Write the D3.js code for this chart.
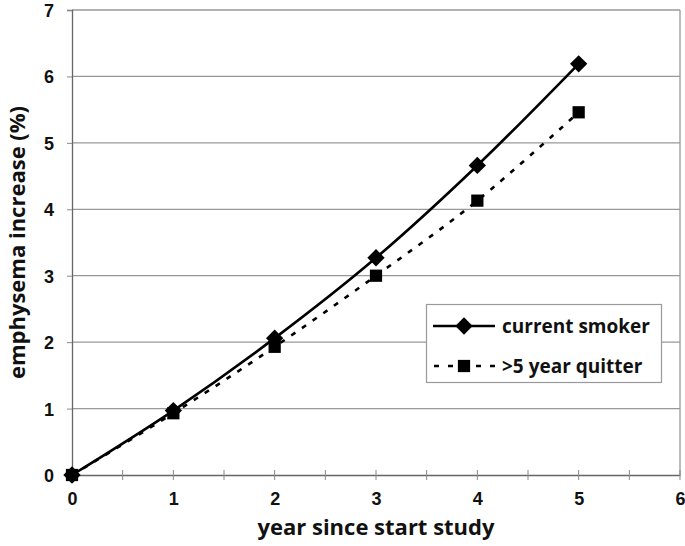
<!DOCTYPE html>
<html>
<head>
<meta charset="utf-8">
<script src="https://cdn.jsdelivr.net/npm/d3@7"></script>
<style>
  body { margin: 0; background: #fff; }
  svg { display: block; font-family: "Open Sans", Lato, sans-serif; }
  .tick text { font-size: 18px; font-weight: bold; fill: #111; }
  .title { font-size: 22px; font-weight: bold; fill: #111; }
  .legend text { font-size: 19px; font-weight: bold; fill: #111; }
</style>
</head>
<body>
<svg id="chart" width="685" height="546"></svg>
<script>
  // data
  let years = [0, 1, 2, 3, 4, 5];
  let smoker = [0, 0.97, 2.06, 3.27, 4.66, 6.19];
  let quitter = [0, 0.93, 1.93, 3.0, 4.13, 5.46];
  let xTicks = [0, 1, 2, 3, 4, 5, 6];
  let yTicks = [0, 1, 2, 3, 4, 5, 6, 7];
  let seriesNames = ['current smoker', '>5 year quitter'];

  let svg = d3.select('#chart');
  let m = { left: 72, right: 5, top: 10, bottom: 71 };
  let W = 685, H = 546;

  let x = d3.scaleLinear().domain([0, 6]).range([m.left, W - m.right]);
  let y = d3.scaleLinear().domain([0, 7]).range([H - m.bottom, m.top]);

  // gridlines
  svg.append('g')
    .selectAll('line')
    .data(yTicks.slice(1))
    .enter()
    .append('line')
      .attr('x1', x(0)).attr('x2', x(6))
      .attr('y1', d => y(d)).attr('y2', d => y(d))
      .attr('stroke', '#999').attr('stroke-width', 1.3);

  // right border of plot
  svg.append('line')
    .attr('x1', x(6)).attr('x2', x(6))
    .attr('y1', y(0)).attr('y2', y(7))
    .attr('stroke', '#999').attr('stroke-width', 1.3);

  // x axis with half-unit ticks crossing the line
  let xAxis = svg.append('g')
    .attr('transform', `translate(0,${y(0)})`)
    .call(d3.axisBottom(x).tickValues(xTicks).tickSize(0).tickPadding(17).tickFormat(d3.format('d')));
  xAxis.select('.domain').attr('stroke', '#666').attr('stroke-width', 1.3);
  xAxis.selectAll('.minor')
    .data(d3.range(0.5, 6.01, 0.5))
    .enter()
    .append('line')
      .attr('class', 'minor')
      .attr('x1', d => x(d)).attr('x2', d => x(d))
      .attr('y1', -5).attr('y2', 5)
      .attr('stroke', '#888');

  // y axis
  let yAxis = svg.append('g')
    .attr('transform', `translate(${m.left},0)`)
    .call(d3.axisLeft(y).tickValues(yTicks).tickSize(5).tickPadding(13).tickFormat(d3.format('d')));
  yAxis.select('.domain').attr('stroke', '#666').attr('stroke-width', 1.3);
  yAxis.selectAll('.tick line').attr('stroke', '#888');
  yAxis.selectAll('.tick text').attr('dy', '0.36em');

  // axis titles
  svg.append('text')
    .attr('class', 'title')
    .attr('x', (x(0) + x(6)) / 2)
    .attr('y', 535)
    .attr('text-anchor', 'middle')
    .text('year since start study');

  svg.append('text')
    .attr('class', 'title')
    .attr('transform', `translate(25,${(y(0) + y(7)) / 2}) rotate(-90)`)
    .attr('text-anchor', 'middle')
    .text('emphysema increase (%)');

  // lines
  let line = d3.line()
    .x(d => x(d[0]))
    .y(d => y(d[1]))
    .curve(d3.curveCardinal.tension(0));

  let smokerPts = years.map((v, i) => [v, smoker[i]]);
  let quitterPts = years.map((v, i) => [v, quitter[i]]);

  svg.append('path')
    .datum(quitterPts)
    .attr('d', line)
    .attr('fill', 'none')
    .attr('stroke', '#000')
    .attr('stroke-width', 2.6)
    .attr('stroke-dasharray', '5 8');

  svg.append('path')
    .datum(smokerPts)
    .attr('d', line)
    .attr('fill', 'none')
    .attr('stroke', '#000')
    .attr('stroke-width', 2.6);

  let square = d3.symbol().type(d3.symbolSquare).size(150);

  svg.append('g')
    .selectAll('path')
    .data(quitterPts)
    .enter()
    .append('path')
      .attr('d', square)
      .attr('transform', d => `translate(${x(d[0])},${y(d[1])})`)
      .attr('fill', '#000');

  // diamonds are squares turned 45 degrees
  svg.append('g')
    .selectAll('path')
    .data(smokerPts)
    .enter()
    .append('path')
      .attr('d', square)
      .attr('transform', d => `translate(${x(d[0])},${y(d[1])}) rotate(45)`)
      .attr('fill', '#000');

  // legend
  let lg = svg.append('g').attr('class', 'legend');
  lg.append('rect')
    .attr('x', 426.5).attr('y', 304.5)
    .attr('width', 235).attr('height', 78)
    .attr('fill', '#fff').attr('stroke', '#999').attr('stroke-width', 1.2);

  let rows = [
    { y: 326, dash: null, sym: 'diamond' },
    { y: 366, dash: '5 9', sym: 'square' }
  ];
  rows.forEach((r, i) => {
    lg.append('line')
      .attr('x1', 433).attr('x2', 495)
      .attr('y1', r.y).attr('y2', r.y)
      .attr('stroke', '#000').attr('stroke-width', 2.6)
      .attr('stroke-dasharray', r.dash)
      .attr('stroke-dashoffset', r.dash ? -1 : null);
    lg.append('path')
      .attr('d', square)
      .attr('transform', `translate(464,${r.y})` + (r.sym === 'diamond' ? ' rotate(45)' : ''))
      .attr('fill', '#000');
    lg.append('text')
      .attr('x', 502).attr('y', r.y)
      .attr('dy', '0.35em')
      .text(seriesNames[i]);
  });
</script>
</body>
</html>
